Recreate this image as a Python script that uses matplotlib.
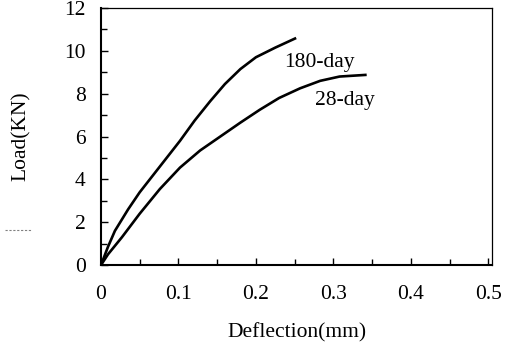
import numpy as np
import matplotlib
matplotlib.use("Agg")
import matplotlib.pyplot as plt
from matplotlib.lines import Line2D

defl_180 = [0, 0.009, 0.018, 0.035, 0.05, 0.076, 0.102, 0.121, 0.141, 0.16, 0.18, 0.2, 0.225, 0.252]
load_180 = [0, 0.85, 1.6, 2.6, 3.4, 4.6, 5.8, 6.75, 7.65, 8.45, 9.15, 9.7, 10.15, 10.6]

defl_28 = [0, 0.009, 0.027, 0.05, 0.076, 0.102, 0.128, 0.154, 0.18, 0.205, 0.23, 0.257, 0.283, 0.308, 0.343]
load_28 = [0, 0.5, 1.3, 2.4, 3.55, 4.55, 5.35, 6.0, 6.65, 7.25, 7.8, 8.25, 8.6, 8.8, 8.88]

x_ticks = [0, 0.1, 0.2, 0.3, 0.4, 0.5]
y_ticks = [0, 2, 4, 6, 8, 10, 12]

plt.rcParams['font.family'] = ['Liberation Serif', 'DejaVu Serif']

fig = plt.figure(figsize=(5.10, 3.47), dpi=100)
ax = fig.add_axes([0.198, 0.236, 0.767, 0.741])

ax.plot(defl_180, load_180, color='black', lw=1.9, solid_capstyle='butt')
ax.plot(defl_28, load_28, color='black', lw=1.9, solid_capstyle='butt')

ax.text(0.237, 9.45, '180-day', fontsize=15.5, va='center', ha='left')
ax.text(0.276, 7.7, '28-day', fontsize=15.5, va='center', ha='left')

ax.set_xlim(0, 0.505)
ax.set_ylim(0, 12)
ax.set_xticks(x_ticks)
ax.set_xticklabels(['0', '0.1', '0.2', '0.3', '0.4', '0.5'])
ax.set_yticks(y_ticks)
ax.set_xticks(np.arange(0, 0.51, 0.05), minor=True)
ax.set_yticks(np.arange(0, 12.1, 1), minor=True)

ax.tick_params(which='both', direction='in', labelsize=15.5, width=1.0)
ax.tick_params(which='major', length=5)
ax.tick_params(which='minor', length=4)
ax.tick_params(axis='x', which='major', pad=14)
ax.tick_params(axis='y', which='major', pad=11)

ax.spines['left'].set_linewidth(1.5)
ax.spines['bottom'].set_linewidth(1.5)
ax.spines['top'].set_linewidth(0.9)
ax.spines['right'].set_linewidth(0.9)

ax.set_xlabel('Deflection(mm)', fontsize=15.5, labelpad=14)
ax.set_ylabel('Load(KN)', fontsize=15.5, labelpad=24)

# small scanning mark at the left
fig.add_artist(Line2D([0.01, 0.063], [0.337, 0.337], transform=fig.transFigure,
                      color='gray', lw=0.8, ls=(0, (2, 1.5))))

fig.savefig('out.png', dpi=100)
